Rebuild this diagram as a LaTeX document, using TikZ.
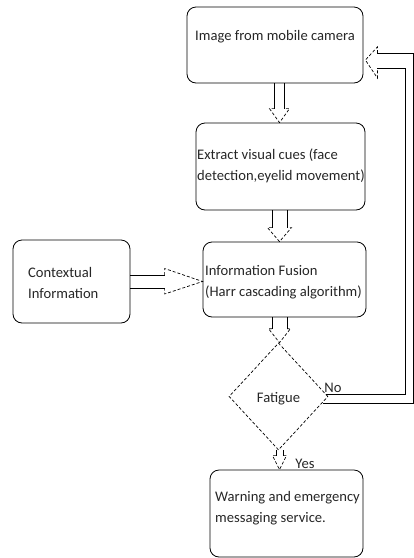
\documentclass[tikz,border=0pt]{standalone}
\usepackage{fontspec}
\setmainfont{Carlito}
\usetikzlibrary{calc,shapes.geometric}

\tikzset{
  box/.style={draw, line width=0.8pt, rounded corners=9pt, inner sep=0pt},
  boxtext/.style={anchor=west, align=left, inner sep=0pt, text=black!85, font=\fontsize{14.6}{21}\selectfont},
  decision/.style={draw, densely dashed, line width=0.7pt, diamond, inner sep=0pt, minimum width=99pt, minimum height=107pt},
  shaft/.style={line width=0.8pt},
  head/.style={line width=0.7pt, densely dashed},
}
% hollow block arrow downwards: from, to, shaft half width, head half width
\newcommand\downblock[4]{%
  \coordinate (s) at (axis |- #1.south);
  \coordinate (t) at (axis |- #2.north);
  \draw[shaft] ($(s)+(-#3,0)$) -- ($(t)+(-#3,-14)$);
  \draw[shaft] ($(s)+(#3,0)$) -- ($(t)+(#3,-14)$);
  \draw[head] ($(t)+(-#3,-14)$) -- ($(t)+(-#4,-14)$) -- (t) -- ($(t)+(#4,-14)$) -- ($(t)+(#3,-14)$);
}

\begin{document}
\begin{tikzpicture}[x=1pt, y=-1pt]
		%%%%% START %%%%%
		\useasboundingbox (0,0) rectangle (414,558);
		
		\node[box, minimum width=176pt, minimum height=76pt] (camera) at (275,45) {};
		\node[boxtext] (cameratxt) at (195,37) {Image from mobile camera};
		
		\node[box, minimum width=169pt, minimum height=87pt] (cues) at (280.5,166.5) {};
		\node[boxtext] (cuestxt) at (197,166) {Extract visual cues (face\\detection,eyelid movement)};
		
		\node[box, minimum width=163pt, minimum height=75pt] (fusion) at (284.5,279.5) {};
		\node[boxtext] (fusiontxt) at (205,282) {Information Fusion\\(Harr cascading algorithm)};
		
		\node[box, minimum width=117pt, minimum height=83pt] (context) at (71.5,281.5) {};
		\node[boxtext] (contexttxt) at (28,283) {Contextual\\Information};
		
		\node[decision] (fatigue) at (278.5,396.5) {};
		\node[boxtext, anchor=center] (fatiguetxt) at (278.5,399) {Fatigue};
		
		\node[box, minimum width=153pt, minimum height=87pt] (warning) at (286.5,513.5) {};
		\node[boxtext] (warningtxt) at (215,508.5) {Warning and emergency\\messaging service.};
		
		\coordinate (axis) at (279.5,0);
		
		\downblock{camera}{cues}{5}{10}
		\downblock{cues}{fusion}{7.5}{12}
		\downblock{fusion}{fatigue}{7.5}{11}
		\downblock{fatigue}{warning}{3.5}{7}
		\node[boxtext, anchor=center] (yes) at (305,464) {Yes};
		
		% context into fusion
		\coordinate (hs) at (context.east);
		\coordinate (ht) at (fusion.west |- context.east);
		\draw[shaft] ($(hs)+(0,-6.5)$) -- ($(ht)+(-38,-6.5)$);
		\draw[shaft] ($(hs)+(0,6.5)$) -- ($(ht)+(-38,6.5)$);
		\draw[head] ($(ht)+(-38,-6.5)$) -- ($(ht)+(-38,-13)$) -- (ht) -- ($(ht)+(-38,12.5)$) -- ($(ht)+(-38,6.5)$);
		
		% No: back to the camera
		\coordinate (tip) at ($(camera.east)+(2,15)$);
		\draw[shaft] ($(fatigue.east)+(-5,7)$) -| ($(tip)+(48,-7)$) -- ($(tip)+(12,-7)$);
		\draw[shaft] ($(fatigue.east)+(-2,-2)$) -| ($(tip)+(40,8)$) -- ($(tip)+(12,8)$);
		\draw[head] ($(tip)+(12,-7)$) -- ($(tip)+(12,-13)$) -- (tip) -- ($(tip)+(12,18)$) -- ($(tip)+(12,8)$);
		\node[boxtext, anchor=center] (no) at (333,388) {No};
		%%%%% END %%%%%
	\end{tikzpicture}
\end{document}
